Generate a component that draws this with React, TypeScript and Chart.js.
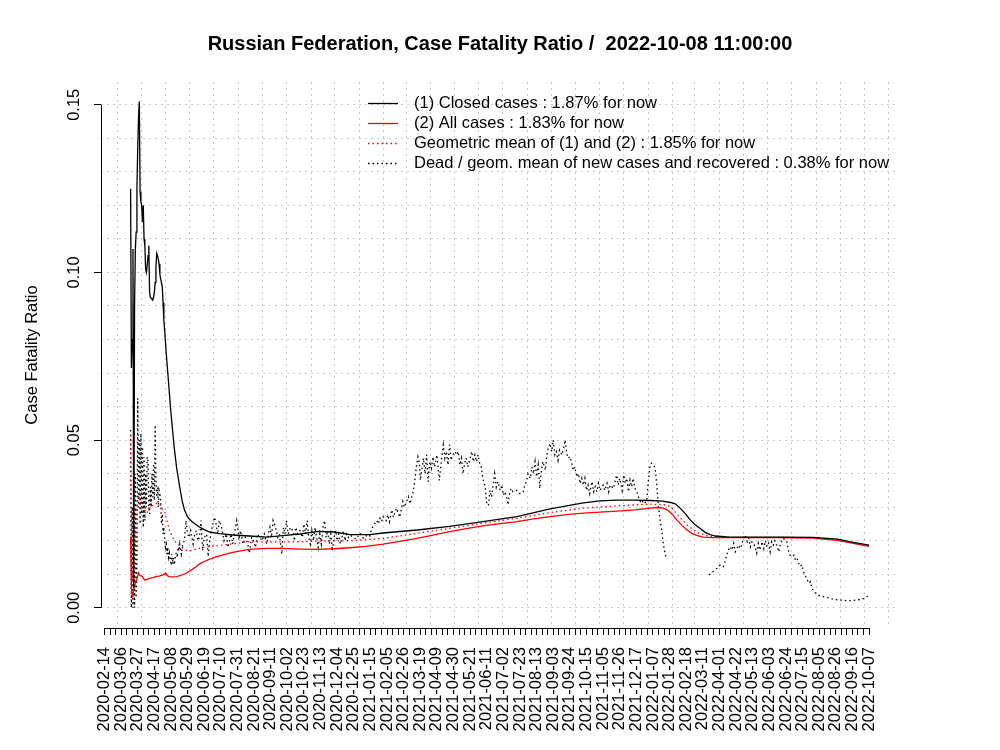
import React, { useEffect, useRef } from 'react';
import { Chart, registerables } from 'chart.js';

Chart.register(...registerables);

const FONT = '"Liberation Sans", Arial, Helvetica, sans-serif';
const BASE_SIZE = 16.5;

const TITLE = 'Russian Federation, Case Fatality Ratio /  2022-10-08 11:00:00';
const Y_TITLE = 'Case Fatality Ratio';
const LEGEND_LABELS = [
  '(1) Closed cases : 1.87% for now',
  '(2) All cases : 1.83% for now',
  'Geometric mean of (1) and (2) : 1.85% for now',
  'Dead / geom. mean of new cases and recovered : 0.38% for now',
];

const START_DATE = '2020-02-14';

const X_TICK_LABELS = [
  '2020-02-14', '2020-03-06', '2020-03-27', '2020-04-17', '2020-05-08', '2020-05-29',
  '2020-06-19', '2020-07-10', '2020-07-31', '2020-08-21', '2020-09-11', '2020-10-02',
  '2020-10-23', '2020-11-13', '2020-12-04', '2020-12-25', '2021-01-15', '2021-02-05',
  '2021-02-26', '2021-03-19', '2021-04-09', '2021-04-30', '2021-05-21', '2021-06-11',
  '2021-07-02', '2021-07-23', '2021-08-13', '2021-09-03', '2021-09-24', '2021-10-15',
  '2021-11-05', '2021-11-26', '2021-12-17', '2022-01-07', '2022-01-28', '2022-02-18',
  '2022-03-11', '2022-04-01', '2022-04-22', '2022-05-13', '2022-06-03', '2022-06-24',
  '2022-07-15', '2022-08-05', '2022-08-26', '2022-09-16', '2022-10-07',
];

const Y_TICK_VALUES = [0, 0.05, 0.1, 0.15];
const Y_TICK_LABELS = ['0.00', '0.05', '0.10', '0.15'];

// [days since 2020-02-14, ratio]
const CLOSED: [number, number][] = [
  [33, 0.125], [34, 0.0715], [35, 0.08], [36, 0.107], [37, 0.006], [38, 0.09], [39, 0.107],
  [40, 0.112], [41, 0.125], [42, 0.137], [43, 0.146], [44, 0.151], [45, 0.124], [46, 0.121],
  [47, 0.12], [48, 0.115], [49, 0.12], [50, 0.11], [51, 0.108], [52, 0.101], [53, 0.1],
  [54, 0.102], [55, 0.105], [56, 0.108], [57, 0.094], [58, 0.0925], [59, 0.0924], [60, 0.092],
  [61, 0.0918], [62, 0.0925], [63, 0.094], [64, 0.097], [65, 0.1015], [66, 0.1057], [67, 0.105],
  [68, 0.104], [69, 0.1025], [70, 0.0995], [71, 0.098], [72, 0.097], [73, 0.0958], [74, 0.091],
  [75, 0.0858], [76, 0.0828], [78, 0.076], [80, 0.07], [82, 0.064], [84, 0.058], [86, 0.053],
  [88, 0.048], [91, 0.042], [93, 0.039], [95, 0.0361], [98, 0.032], [101, 0.0292], [105, 0.0271],
  [110, 0.0258], [115, 0.0249], [120, 0.0241], [126, 0.0233], [133, 0.0226], [145, 0.0221],
  [162, 0.0217], [183, 0.0214], [205, 0.0211], [225, 0.0215], [247, 0.022], [270, 0.0228],
  [290, 0.0226], [310, 0.0218], [335, 0.0218], [352, 0.0223], [395, 0.0232], [436, 0.0243],
  [478, 0.0257], [521, 0.0272], [563, 0.0295], [605, 0.0313], [626, 0.0319], [648, 0.0321],
  [670, 0.0321], [689, 0.032], [705, 0.0318], [715, 0.0314], [721, 0.031], [727, 0.0298],
  [734, 0.028], [740, 0.0262], [746, 0.0248], [753, 0.0236], [759, 0.0225], [765, 0.0218],
  [772, 0.0214], [790, 0.0211], [854, 0.0211], [895, 0.021], [926, 0.0205], [946, 0.0195],
  [966, 0.0187],
];

const ALL_CASES: [number, number][] = [
  [33, 0.0212], [34, 0.006], [35, 0.0033], [36, 0.004], [37, 0.0053], [38, 0.0065], [39, 0.0075],
  [40, 0.0083], [41, 0.009], [42, 0.0095], [43, 0.0104], [44, 0.0098], [45, 0.0096], [47, 0.0095],
  [49, 0.0088], [51, 0.0083], [54, 0.0085], [57, 0.0088], [61, 0.009], [65, 0.0093], [70, 0.0095],
  [74, 0.0098], [76, 0.0101], [77, 0.0104], [79, 0.0097], [81, 0.0093], [86, 0.0092], [91, 0.0093],
  [97, 0.0097], [103, 0.0103], [110, 0.0113], [116, 0.0123], [120, 0.0131], [126, 0.0138],
  [133, 0.0145], [141, 0.0152], [150, 0.0158], [158, 0.0163], [170, 0.0169], [183, 0.0174],
  [205, 0.0177], [226, 0.0177], [247, 0.0175], [270, 0.0174], [290, 0.0176], [310, 0.0179],
  [330, 0.0183], [352, 0.019], [373, 0.0198], [395, 0.0207], [415, 0.0217], [436, 0.0227],
  [457, 0.0236], [478, 0.0244], [500, 0.0251], [521, 0.0257], [542, 0.0265], [563, 0.0272],
  [584, 0.0278], [605, 0.0282], [626, 0.0285], [648, 0.0288], [670, 0.0292], [689, 0.0297],
  [698, 0.0299], [705, 0.0298], [711, 0.0292], [717, 0.028], [723, 0.0262], [730, 0.0245],
  [736, 0.0232], [742, 0.0222], [749, 0.0215], [756, 0.0211], [769, 0.0209], [850, 0.0209],
  [895, 0.0208], [926, 0.0201], [946, 0.0192], [966, 0.0183],
];

const GEO_MEAN: [number, number][] = [
  [33, 0.0515], [34, 0.015], [35, 0.008], [36, 0.012], [37, 0.02], [38, 0.024], [39, 0.018],
  [40, 0.026], [41, 0.03], [42, 0.032], [43, 0.034], [44, 0.0342], [45, 0.032], [46, 0.031],
  [47, 0.03], [48, 0.0295], [50, 0.029], [52, 0.0283], [54, 0.0284], [56, 0.0298], [58, 0.03],
  [61, 0.0305], [64, 0.031], [67, 0.0312], [70, 0.0307], [72, 0.03], [74, 0.0293], [76, 0.0287],
  [79, 0.026], [82, 0.0232], [85, 0.0215], [88, 0.0202], [91, 0.0192], [95, 0.0185], [99, 0.0178],
  [103, 0.0172], [108, 0.017], [116, 0.0175], [129, 0.0182], [145, 0.0186], [167, 0.0192],
  [183, 0.0197], [205, 0.0196], [247, 0.0197], [275, 0.0199], [310, 0.02], [352, 0.0207],
  [395, 0.0222], [436, 0.0237], [478, 0.0252], [521, 0.0267], [563, 0.0284], [605, 0.0297],
  [648, 0.0304], [689, 0.0309], [706, 0.0308], [715, 0.0302], [723, 0.028], [736, 0.0247],
  [749, 0.0224], [765, 0.0212], [790, 0.021], [850, 0.021], [895, 0.0209], [926, 0.0203],
  [946, 0.0193], [966, 0.0185],
];

const DEAD_RATIO: [number, number | null][] = [
  [33, 0.053], [34, 0.0], [35, 0.03], [36, 0.0], [37, 0.045], [38, 0.0], [39, 0.04], [40, 0.003],
  [41, 0.012], [42, 0.0625], [43, 0.03], [44, 0.05], [45, 0.025], [46, 0.052], [47, 0.028],
  [48, 0.048], [49, 0.024], [50, 0.045], [51, 0.026], [52, 0.04], [53, 0.03], [54, 0.045],
  [55, 0.0436], [56, 0.03], [57, 0.028], [58, 0.036], [59, 0.03], [60, 0.04], [61, 0.033],
  [62, 0.043], [63, 0.032], [64, 0.0545], [65, 0.038], [66, 0.033], [67, 0.036], [68, 0.03],
  [69, 0.035], [70, 0.034], [71, 0.032], [72, 0.025], [73, 0.028], [74, 0.022], [75, 0.024],
  [76, 0.02], [77, 0.018], [78, 0.019], [79, 0.016], [80, 0.018], [81, 0.015], [82, 0.0163],
  [83, 0.014], [84, 0.0134], [85, 0.016], [86, 0.013], [87, 0.015], [88, 0.0128], [89, 0.014],
  [90, 0.016], [91, 0.0165], [92, 0.015], [93, 0.018], [94, 0.017], [95, 0.019], [97, 0.016],
  [99, 0.0192], [101, 0.02], [103, 0.026], [105, 0.022], [107, 0.021], [109, 0.023], [112, 0.019],
  [114, 0.022], [116, 0.023], [118, 0.02], [120, 0.021], [122, 0.026], [124, 0.017], [126, 0.021],
  [129, 0.022], [131, 0.0153], [133, 0.02], [136, 0.024], [139, 0.027], [141, 0.025], [143, 0.022],
  [145, 0.026], [148, 0.024], [151, 0.02], [154, 0.022], [156, 0.018], [158, 0.02], [160, 0.022],
  [162, 0.019], [164, 0.022], [167, 0.026], [170, 0.021], [172, 0.023], [175, 0.019], [178, 0.021],
  [181, 0.019], [183, 0.0163], [186, 0.021], [188, 0.02], [191, 0.018], [193, 0.022], [196, 0.021],
  [199, 0.02], [202, 0.022], [205, 0.019], [207, 0.022], [209, 0.024], [211, 0.021], [213, 0.026],
  [216, 0.024], [219, 0.021], [221, 0.022], [224, 0.016], [226, 0.024], [228, 0.022], [230, 0.026],
  [232, 0.022], [235, 0.024], [238, 0.023], [240, 0.02], [242, 0.024], [244, 0.022], [247, 0.023],
  [250, 0.021], [252, 0.025], [254, 0.022], [256, 0.026], [258, 0.021], [260, 0.019], [262, 0.023],
  [264, 0.02], [266, 0.024], [268, 0.021], [270, 0.018], [272, 0.022], [274, 0.019], [276, 0.024],
  [278, 0.026], [280, 0.021], [282, 0.023], [284, 0.019], [286, 0.022], [288, 0.017], [290, 0.021],
  [292, 0.023], [294, 0.02], [296, 0.022], [298, 0.019], [300, 0.021], [302, 0.023], [304, 0.02],
  [306, 0.022], [308, 0.021], [310, 0.0217], [318, 0.0205], [323, 0.0222], [327, 0.0207],
  [331, 0.0215], [335, 0.0212], [337, 0.0232], [339, 0.0242], [344, 0.026], [346, 0.025],
  [348, 0.0267], [350, 0.0257], [352, 0.0272], [356, 0.026], [358, 0.0277], [360, 0.0257],
  [363, 0.0292], [365, 0.027], [369, 0.0297], [373, 0.027], [377, 0.0317], [379, 0.03],
  [384, 0.0331], [386, 0.031], [390, 0.0346], [392, 0.0376], [394, 0.042], [396, 0.045],
  [398, 0.043], [399, 0.038], [403, 0.0446], [405, 0.04], [407, 0.0456], [409, 0.0376],
  [411, 0.0436], [413, 0.0416], [415, 0.045], [417, 0.042], [420, 0.0456], [423, 0.038],
  [426, 0.0446], [428, 0.0486], [430, 0.0446], [432, 0.0466], [434, 0.0426], [436, 0.0486],
  [438, 0.044], [440, 0.0456], [443, 0.0466], [445, 0.0456], [447, 0.0466], [449, 0.0426],
  [451, 0.0446], [453, 0.04], [455, 0.043], [457, 0.0446], [459, 0.042], [462, 0.0446],
  [464, 0.0466], [466, 0.0436], [468, 0.0456], [470, 0.0436], [472, 0.0456], [474, 0.043],
  [476, 0.042], [478, 0.0386], [481, 0.036], [483, 0.031], [485, 0.0305], [487, 0.035],
  [489, 0.033], [491, 0.0366], [493, 0.04], [495, 0.036], [497, 0.0376], [500, 0.035],
  [502, 0.0366], [504, 0.0336], [506, 0.0346], [508, 0.0331], [510, 0.0307], [512, 0.0346],
  [514, 0.0356], [516, 0.0346], [521, 0.035], [525, 0.034], [529, 0.0346], [531, 0.0366],
  [533, 0.0376], [535, 0.04], [538, 0.0386], [540, 0.042], [542, 0.04], [544, 0.0436],
  [546, 0.0391], [548, 0.0426], [550, 0.0356], [552, 0.041], [554, 0.0436], [557, 0.041],
  [559, 0.0456], [561, 0.048], [563, 0.049], [565, 0.0466], [567, 0.05], [569, 0.0456],
  [571, 0.0466], [573, 0.044], [575, 0.047], [578, 0.0456], [580, 0.0476], [582, 0.05],
  [584, 0.046], [586, 0.0446], [588, 0.0451], [590, 0.0436], [592, 0.041], [594, 0.042],
  [597, 0.039], [599, 0.04], [601, 0.037], [603, 0.0386], [605, 0.0366], [607, 0.0386],
  [609, 0.035], [611, 0.0366], [613, 0.034], [616, 0.0376], [618, 0.0346], [620, 0.0361],
  [622, 0.0346], [624, 0.0371], [626, 0.035], [630, 0.0366], [632, 0.035], [635, 0.0371],
  [637, 0.0346], [639, 0.0366], [643, 0.0356], [645, 0.0376], [647, 0.0396], [649, 0.0366],
  [651, 0.0386], [654, 0.035], [656, 0.0396], [658, 0.0371], [660, 0.0386], [662, 0.0346],
  [664, 0.0381], [666, 0.0361], [668, 0.0386], [670, 0.0356], [672, 0.035], [675, 0.0327],
  [677, 0.0317], [679, 0.0322], [681, 0.031], [685, 0.0317], [687, 0.0376], [689, 0.042],
  [691, 0.0431], [694, 0.0426], [696, 0.041], [698, 0.036], [700, 0.03], [702, 0.0262],
  [704, 0.0232], [706, 0.0192], [708, 0.0163], [710, 0.0148], [737, null],
  [764, 0.0098], [769, 0.0108], [774, 0.0118], [778, 0.0128], [782, 0.0123], [784, 0.0137],
  [786, 0.0157], [790, 0.0182], [793, 0.0172], [795, 0.0192], [797, 0.0167], [799, 0.0177],
  [801, 0.0187], [803, 0.0177], [805, 0.0187], [807, 0.0207], [809, 0.0217], [812, 0.0197],
  [814, 0.0207], [816, 0.0182], [818, 0.0197], [820, 0.0192], [822, 0.0182], [824, 0.0163],
  [826, 0.0192], [828, 0.0172], [831, 0.0197], [833, 0.0177], [835, 0.02], [837, 0.0182],
  [839, 0.0192], [841, 0.0167], [843, 0.0197], [845, 0.0187], [847, 0.02], [850, 0.0182],
  [852, 0.0167], [854, 0.0192], [856, 0.02], [858, 0.0207], [860, 0.02], [862, 0.0197],
  [864, 0.0172], [866, 0.0157], [869, 0.0152], [871, 0.0157], [873, 0.0142], [875, 0.0147],
  [877, 0.0133], [879, 0.0123], [881, 0.0128], [883, 0.0108], [885, 0.0098], [888, 0.0083],
  [890, 0.0073], [892, 0.0078], [894, 0.0058], [896, 0.0048], [900, 0.0041], [904, 0.0035],
  [913, 0.0031], [921, 0.0025], [930, 0.0023], [938, 0.0021], [947, 0.0022], [955, 0.0025],
  [959, 0.0027], [963, 0.0033], [966, 0.0038],
];

const X_MIN = -4.4;
const X_MAX = 1003.8;
const Y_MIN = -0.00603;
const Y_MAX = 0.1568;

const DAY_MS = 86400000;
const dayOf = (iso: string) =>
  Math.round((Date.parse(iso + 'T00:00:00Z') - Date.parse(START_DATE + 'T00:00:00Z')) / DAY_MS);

const toPoints = (rows: [number, number | null][]) => rows.map(([x, y]) => ({ x, y }));

export default function App() {
  const canvasRef = useRef<HTMLCanvasElement | null>(null);

  useEffect(() => {
    const canvas = canvasRef.current;
    if (!canvas) return;

    const labelByDay = new Map<number, string>();
    X_TICK_LABELS.forEach((l) => labelByDay.set(dayOf(l), l));
    const lastDay = dayOf(X_TICK_LABELS[X_TICK_LABELS.length - 1]);
    const weekTicks: { value: number }[] = [];
    for (let d = 0; d <= lastDay; d += 7) weekTicks.push({ value: d });

    const monthTicks: { value: number }[] = [];
    const start = Date.parse(START_DATE + 'T00:00:00Z');
    for (let y = 2020; y <= 2022; y++) {
      for (let m = 0; m < 12; m++) {
        const d = (Date.UTC(y, m, 1) - start) / DAY_MS;
        if (d > X_MIN && d < X_MAX) monthTicks.push({ value: d });
      }
    }
    const yGridTicks: { value: number }[] = [];
    for (let i = 0; i <= 15; i++) yGridTicks.push({ value: i / 100 });

    const overlay = {
      id: 'overlay',
      afterDraw(chart: any) {
        const { ctx, chartArea, scales } = chart;
        const xs = scales.x;
        const ys = scales.y;
        ctx.save();
        ctx.fillStyle = '#000';
        ctx.strokeStyle = '#000';
        ctx.lineWidth = 1;
        ctx.setLineDash([]);
        // axis lines (R style, from first to last tick)
        const ax = Math.round(chartArea.left) + 0.5;
        const ay = Math.round(chartArea.bottom) + 0.5;
        ctx.beginPath();
        ctx.moveTo(ax, ys.getPixelForValue(Y_TICK_VALUES[0]));
        ctx.lineTo(ax, ys.getPixelForValue(Y_TICK_VALUES[Y_TICK_VALUES.length - 1]));
        ctx.moveTo(xs.getPixelForValue(0), ay);
        ctx.lineTo(xs.getPixelForValue(lastDay), ay);
        ctx.stroke();

        // y tick labels (rotated, parallel to axis)
        ctx.font = `${BASE_SIZE}px ${FONT}`;
        ctx.textAlign = 'center';
        ctx.textBaseline = 'alphabetic';
        Y_TICK_VALUES.forEach((v, i) => {
          ctx.save();
          ctx.translate(79, ys.getPixelForValue(v));
          ctx.rotate(-Math.PI / 2);
          ctx.fillText(Y_TICK_LABELS[i], 0, 0);
          ctx.restore();
        });

        // y title
        ctx.save();
        ctx.translate(37, (chartArea.top + chartArea.bottom) / 2);
        ctx.rotate(-Math.PI / 2);
        ctx.fillText(Y_TITLE, 0, 0);
        ctx.restore();

        // title
        ctx.font = `bold 20px ${FONT}`;
        ctx.textAlign = 'center';
        ctx.fillText(TITLE, 500, 50);

        // legend
        const styles = [
          { color: '#000000', dash: [] as number[] },
          { color: '#ff0000', dash: [] as number[] },
          { color: '#ff0000', dash: [1.5, 3] },
          { color: '#000000', dash: [1.5, 3] },
        ];
        ctx.font = `${BASE_SIZE}px ${FONT}`;
        ctx.textAlign = 'left';
        ctx.textBaseline = 'middle';
        LEGEND_LABELS.forEach((label, i) => {
          const y = 103.5 + i * 20;
          ctx.strokeStyle = styles[i].color;
          ctx.lineWidth = 1.3;
          ctx.setLineDash(styles[i].dash);
          ctx.beginPath();
          ctx.moveTo(368, y);
          ctx.lineTo(398, y);
          ctx.stroke();
          ctx.fillStyle = '#000';
          ctx.fillText(label, 414, y);
        });
        ctx.restore();
      },
    };

    const chart = new Chart(canvas, {
      type: 'line',
      data: {
        datasets: [
          {
            label: LEGEND_LABELS[0],
            data: toPoints(CLOSED),
            borderColor: '#000000',
            borderWidth: 1.3,
            pointRadius: 0,
            tension: 0,
          },
          {
            label: LEGEND_LABELS[1],
            data: toPoints(ALL_CASES),
            borderColor: '#ff0000',
            borderWidth: 1.3,
            pointRadius: 0,
            tension: 0,
          },
          {
            label: LEGEND_LABELS[2],
            data: toPoints(GEO_MEAN),
            borderColor: '#ff0000',
            borderWidth: 1.3,
            borderDash: [1.5, 3],
            pointRadius: 0,
            tension: 0,
          },
          {
            label: LEGEND_LABELS[3],
            data: toPoints(DEAD_RATIO),
            borderColor: '#000000',
            borderWidth: 1.3,
            borderDash: [1.5, 3],
            pointRadius: 0,
            tension: 0,
            spanGaps: false,
          },
        ],
      },
      options: {
        responsive: false,
        animation: false,
        events: [],
        layout: { padding: { top: 82, right: 101, bottom: 0, left: 0 } },
        plugins: {
          legend: { display: false },
          title: { display: false },
          tooltip: { enabled: false },
        },
        scales: {
          x: {
            type: 'linear',
            position: 'bottom',
            min: X_MIN,
            max: X_MAX,
            afterBuildTicks: (scale: any) => {
              scale.ticks = weekTicks.map((t) => ({ ...t }));
            },
            afterFit: (scale: any) => {
              scale.height = 122;
            },
            ticks: {
              autoSkip: false,
              minRotation: 90,
              maxRotation: 90,
              padding: 12,
              color: '#000',
              font: { family: FONT, size: BASE_SIZE },
              callback: (value: any) => labelByDay.get(Number(value)) ?? '',
            },
            grid: {
              drawOnChartArea: false,
              drawTicks: true,
              tickLength: 7,
              tickColor: '#000',
              color: '#000',
              tickWidth: 1,
            },
            border: { display: false },
          },
          xg: {
            type: 'linear',
            position: 'bottom',
            min: X_MIN,
            max: X_MAX,
            afterBuildTicks: (scale: any) => {
              scale.ticks = monthTicks.map((t) => ({ ...t }));
            },
            afterFit: (scale: any) => {
              scale.height = 0;
            },
            ticks: { display: false },
            grid: {
              drawOnChartArea: true,
              drawTicks: false,
              color: '#c8c8c8',
              lineWidth: 1,
            },
            border: { display: false, dash: [2, 4] },
          },
          y: {
            type: 'linear',
            position: 'left',
            min: Y_MIN,
            max: Y_MAX,
            afterBuildTicks: (scale: any) => {
              scale.ticks = yGridTicks.map((t) => ({ ...t }));
            },
            afterFit: (scale: any) => {
              scale.width = 101;
            },
            ticks: { display: false },
            grid: {
              drawOnChartArea: true,
              drawTicks: true,
              tickLength: 7,
              color: '#c8c8c8',
              lineWidth: 1,
              tickWidth: 1,
              tickBorderDash: [],
              tickColor: (ctx: any) =>
                Math.round(ctx.tick.value * 100) % 5 === 0 ? '#000' : 'rgba(0,0,0,0)',
            },
            border: { display: false, dash: [2, 4] },
          },
        },
      } as any,
      plugins: [overlay],
    });

    return () => chart.destroy();
  }, []);

  return (
    <div style={{ position: 'absolute', left: 0, top: 0, width: 1000, height: 750, background: '#fff' }}>
      <canvas ref={canvasRef} width={1000} height={750} style={{ display: 'block' }} />
    </div>
  );
}
